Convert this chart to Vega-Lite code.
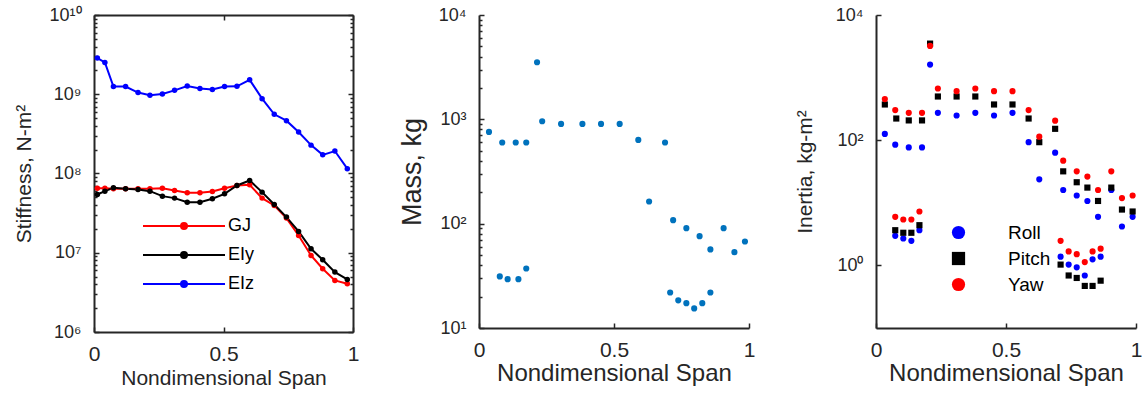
{
  "$schema": "https://vega.github.io/schema/vega-lite/v6.json",
  "padding": {"left": 13, "top": 6, "right": 5, "bottom": 5},
  "spacing": 39,
  "resolve": {"scale": {"color": "independent", "shape": "independent"}, "legend": {"color": "independent", "shape": "independent"}},
  "config": {
    "font": "Liberation Sans",
    "view": {"stroke": null},
    "axis": {
      "domainColor": "#262626", "domainWidth": 2, "tickColor": "#262626", "tickWidth": 1.5,
      "labelColor": "#262626", "titleColor": "#262626", "grid": false, "labelFlush": false,
      "labelOverlap": false, "titleFontWeight": "normal", "labelFont": "Liberation Sans", "titleFont": "Liberation Sans"
    },
    "legend": {"labelFont": "Liberation Sans", "labelColor": "#000000"}
  },
  "hconcat": [
    {
      "width": 259, "height": 317,
      "data": {"values": [
        {"x":0.013,"v":6.53e7,"s":"GJ"},{"x":0.042,"v":6.53e7,"s":"GJ"},{"x":0.075,"v":6.41e7,"s":"GJ"},{"x":0.122,"v":6.41e7,"s":"GJ"},{"x":0.170,"v":6.41e7,"s":"GJ"},{"x":0.216,"v":6.41e7,"s":"GJ"},{"x":0.264,"v":6.53e7,"s":"GJ"},{"x":0.311,"v":6.11e7,"s":"GJ"},{"x":0.360,"v":5.70e7,"s":"GJ"},{"x":0.409,"v":5.70e7,"s":"GJ"},{"x":0.457,"v":5.93e7,"s":"GJ"},{"x":0.504,"v":6.53e7,"s":"GJ"},{"x":0.552,"v":7.06e7,"s":"GJ"},{"x":0.601,"v":7.20e7,"s":"GJ"},{"x":0.649,"v":4.89e7,"s":"GJ"},{"x":0.696,"v":3.95e7,"s":"GJ"},{"x":0.743,"v":2.74e7,"s":"GJ"},{"x":0.790,"v":1.65e7,"s":"GJ"},{"x":0.838,"v":9.25e6,"s":"GJ"},{"x":0.883,"v":6.28e6,"s":"GJ"},{"x":0.930,"v":4.48e6,"s":"GJ"},{"x":0.978,"v":4.06e6,"s":"GJ"},
        {"x":0.013,"v":5.43e7,"s":"EIy"},{"x":0.042,"v":5.99e7,"s":"EIy"},{"x":0.075,"v":6.59e7,"s":"EIy"},{"x":0.122,"v":6.41e7,"s":"EIy"},{"x":0.170,"v":6.28e7,"s":"EIy"},{"x":0.216,"v":5.99e7,"s":"EIy"},{"x":0.264,"v":5.18e7,"s":"EIy"},{"x":0.311,"v":4.89e7,"s":"EIy"},{"x":0.360,"v":4.35e7,"s":"EIy"},{"x":0.409,"v":4.35e7,"s":"EIy"},{"x":0.457,"v":4.80e7,"s":"EIy"},{"x":0.504,"v":5.54e7,"s":"EIy"},{"x":0.552,"v":7.06e7,"s":"EIy"},{"x":0.601,"v":8.17e7,"s":"EIy"},{"x":0.649,"v":5.82e7,"s":"EIy"},{"x":0.696,"v":4.06e7,"s":"EIy"},{"x":0.743,"v":2.82e7,"s":"EIy"},{"x":0.790,"v":1.86e7,"s":"EIy"},{"x":0.838,"v":1.12e7,"s":"EIy"},{"x":0.883,"v":8.16e6,"s":"EIy"},{"x":0.930,"v":5.70e6,"s":"EIy"},{"x":0.978,"v":4.61e6,"s":"EIy"},
        {"x":0.013,"v":2.86e9,"s":"EIz"},{"x":0.042,"v":2.52e9,"s":"EIz"},{"x":0.075,"v":1.25e9,"s":"EIz"},{"x":0.122,"v":1.25e9,"s":"EIz"},{"x":0.170,"v":1.05e9,"s":"EIz"},{"x":0.216,"v":9.7e8,"s":"EIz"},{"x":0.264,"v":1.01e9,"s":"EIz"},{"x":0.311,"v":1.12e9,"s":"EIz"},{"x":0.360,"v":1.27e9,"s":"EIz"},{"x":0.409,"v":1.18e9,"s":"EIz"},{"x":0.457,"v":1.15e9,"s":"EIz"},{"x":0.504,"v":1.25e9,"s":"EIz"},{"x":0.552,"v":1.26e9,"s":"EIz"},{"x":0.601,"v":1.52e9,"s":"EIz"},{"x":0.649,"v":8.8e8,"s":"EIz"},{"x":0.696,"v":5.58e8,"s":"EIz"},{"x":0.743,"v":4.64e8,"s":"EIz"},{"x":0.790,"v":3.34e8,"s":"EIz"},{"x":0.838,"v":2.28e8,"s":"EIz"},{"x":0.883,"v":1.72e8,"s":"EIz"},{"x":0.930,"v":1.92e8,"s":"EIz"},{"x":0.978,"v":1.15e8,"s":"EIz"}
      ]},
      "resolve": {"axis": {"x": "independent", "y": "independent"}},
      "layer": [
        {
          "mark": {"type": "line", "strokeWidth": 2},
          "encoding": {
            "x": {"field": "x", "type": "quantitative", "scale": {"domain": [0, 1], "nice": false},
              "axis": {"orient": "bottom", "values": [0, 0.5, 1], "format": "~g", "tickSize": -5, "labelPadding": 16, "labelFontSize": 21, "title": "Nondimensional Span", "titleFontSize": 21, "titlePadding": 3}},
            "y": {"field": "v", "type": "quantitative", "scale": {"type": "log", "domain": [1e6, 1e10], "nice": false},
              "axis": {"orient": "left", "title": "Stiffness, N-m²", "titleFontSize": 21, "titlePadding": 14, "labelFontSize": 18, "labelPadding": 18,
                "values": [1e6,2e6,3e6,4e6,5e6,6e6,7e6,8e6,9e6,1e7,2e7,3e7,4e7,5e7,6e7,7e7,8e7,9e7,1e8,2e8,3e8,4e8,5e8,6e8,7e8,8e8,9e8,1e9,2e9,3e9,4e9,5e9,6e9,7e9,8e9,9e9,1e10],
                "labelExpr": "datum.value==1e6?'10⁶':datum.value==1e7?'10⁷':datum.value==1e8?'10⁸':datum.value==1e9?'10⁹':datum.value==1e10?'10¹⁰':''",
                "tickSize": {"condition": {"test": "indexof([1e6,1e7,1e8,1e9,1e10], datum.value) >= 0", "value": -5}, "value": -3}}},
            "color": {"field": "s", "type": "nominal", "scale": {"domain": ["GJ", "EIy", "EIz"], "range": ["#ff0000", "#000000", "#0000ff"]},
              "legend": {"title": null, "orient": "none", "legendX": 81, "legendY": 202, "symbolType": "M-8.2,0H8.2M0.6,0A0.6,0.6,0,1,1,-0.6,0A0.6,0.6,0,1,1,0.6,0Z", "symbolSize": 100, "symbolStrokeWidth": 2, "labelFontSize": 18, "labelOffset": 35, "rowPadding": 11}}
          }
        },
        {
          "mark": {"type": "point", "filled": true, "size": 30, "opacity": 1},
          "encoding": {
            "x": {"field": "x", "type": "quantitative",
              "axis": {"orient": "top", "values": [0, 0.5, 1], "tickSize": -5, "labels": false, "title": null}},
            "y": {"field": "v", "type": "quantitative",
              "axis": {"orient": "right", "title": null, "labels": false,
                "values": [1e6,2e6,3e6,4e6,5e6,6e6,7e6,8e6,9e6,1e7,2e7,3e7,4e7,5e7,6e7,7e7,8e7,9e7,1e8,2e8,3e8,4e8,5e8,6e8,7e8,8e8,9e8,1e9,2e9,3e9,4e9,5e9,6e9,7e9,8e9,9e9,1e10],
                "tickSize": {"condition": {"test": "indexof([1e6,1e7,1e8,1e9,1e10], datum.value) >= 0", "value": -5}, "value": -3}}},
            "color": {"field": "s", "type": "nominal"}
          }
        }
      ]
    },
    {
      "width": 270, "height": 313,
      "data": {"values": [
        {"x":0.037,"v":757},{"x":0.086,"v":600},{"x":0.136,"v":600},{"x":0.175,"v":600},{"x":0.215,"v":3524},{"x":0.234,"v":959},{"x":0.304,"v":904},{"x":0.383,"v":904},{"x":0.452,"v":904},{"x":0.521,"v":904},{"x":0.590,"v":635},{"x":0.689,"v":600},{"x":0.630,"v":163},{"x":0.719,"v":108},{"x":0.768,"v":90.6},{"x":0.817,"v":75.9},{"x":0.857,"v":56.6},{"x":0.906,"v":90.6},{"x":0.946,"v":53.3},{"x":0.985,"v":67.5},
        {"x":0.077,"v":31.2},{"x":0.106,"v":29.4},{"x":0.146,"v":29.4},{"x":0.175,"v":37.2},{"x":0.708,"v":21.9},{"x":0.738,"v":18.4},{"x":0.768,"v":17.3},{"x":0.797,"v":15.4},{"x":0.827,"v":17.3},{"x":0.857,"v":21.9}
      ]},
      "mark": {"type": "point", "filled": true, "size": 38, "opacity": 1, "color": "#0072bd"},
      "encoding": {
        "x": {"field": "x", "type": "quantitative", "scale": {"domain": [0, 1], "nice": false},
          "axis": {"values": [0, 0.5, 1], "format": "~g", "tickSize": -5, "labelPadding": 16, "labelFontSize": 21, "title": "Nondimensional Span", "titleFontSize": 24, "titlePadding": 1}},
        "y": {"field": "v", "type": "quantitative", "scale": {"type": "log", "domain": [10, 10000], "nice": false},
          "axis": {"title": "Mass, kg", "titleFontSize": 27, "titlePadding": 12, "labelFontSize": 18, "labelPadding": 18,
            "values": [10,20,30,40,50,60,70,80,90,100,200,300,400,500,600,700,800,900,1000,2000,3000,4000,5000,6000,7000,8000,9000,10000],
            "labelExpr": "datum.value==10?'10¹':datum.value==100?'10²':datum.value==1000?'10³':datum.value==10000?'10⁴':''",
            "tickSize": {"condition": {"test": "indexof([10,100,1000,10000], datum.value) >= 0", "value": -5}, "value": -3}}}
      }
    },
    {
      "width": 260, "height": 313,
      "data": {"values": [
        {"x":0.034,"v":126,"s":"Roll"},{"x":0.074,"v":84.8,"s":"Roll"},{"x":0.126,"v":76.8,"s":"Roll"},{"x":0.177,"v":76.8,"s":"Roll"},{"x":0.208,"v":1614,"s":"Roll"},{"x":0.238,"v":274,"s":"Roll"},{"x":0.310,"v":248,"s":"Roll"},{"x":0.382,"v":274,"s":"Roll"},{"x":0.454,"v":248,"s":"Roll"},{"x":0.525,"v":274,"s":"Roll"},{"x":0.587,"v":93,"s":"Roll"},{"x":0.628,"v":23.7,"s":"Roll"},{"x":0.689,"v":63.2,"s":"Roll"},{"x":0.720,"v":16.0,"s":"Roll"},{"x":0.772,"v":13.1,"s":"Roll"},{"x":0.813,"v":10.7,"s":"Roll"},{"x":0.854,"v":5.97,"s":"Roll"},{"x":0.905,"v":16.0,"s":"Roll"},{"x":0.946,"v":4.18,"s":"Roll"},{"x":0.987,"v":5.97,"s":"Roll"},
        {"x":0.074,"v":2.97,"s":"Roll"},{"x":0.105,"v":2.69,"s":"Roll"},{"x":0.136,"v":2.47,"s":"Roll"},{"x":0.167,"v":3.65,"s":"Roll"},{"x":0.710,"v":1.38,"s":"Roll"},{"x":0.741,"v":1.03,"s":"Roll"},{"x":0.772,"v":0.93,"s":"Roll"},{"x":0.803,"v":0.69,"s":"Roll"},{"x":0.833,"v":1.25,"s":"Roll"},{"x":0.864,"v":1.38,"s":"Roll"},
        {"x":0.034,"v":372,"s":"Pitch"},{"x":0.078,"v":222,"s":"Pitch"},{"x":0.126,"v":207,"s":"Pitch"},{"x":0.177,"v":207,"s":"Pitch"},{"x":0.208,"v":3491,"s":"Pitch"},{"x":0.238,"v":499,"s":"Pitch"},{"x":0.310,"v":499,"s":"Pitch"},{"x":0.382,"v":499,"s":"Pitch"},{"x":0.454,"v":372,"s":"Pitch"},{"x":0.525,"v":372,"s":"Pitch"},{"x":0.587,"v":222,"s":"Pitch"},{"x":0.628,"v":93,"s":"Pitch"},{"x":0.689,"v":152,"s":"Pitch"},{"x":0.720,"v":31.8,"s":"Pitch"},{"x":0.772,"v":21.3,"s":"Pitch"},{"x":0.813,"v":17.5,"s":"Pitch"},{"x":0.854,"v":10.7,"s":"Pitch"},{"x":0.905,"v":17.5,"s":"Pitch"},{"x":0.946,"v":7.8,"s":"Pitch"},{"x":0.987,"v":7.26,"s":"Pitch"},
        {"x":0.074,"v":3.65,"s":"Pitch"},{"x":0.105,"v":3.32,"s":"Pitch"},{"x":0.136,"v":3.32,"s":"Pitch"},{"x":0.167,"v":4.39,"s":"Pitch"},{"x":0.710,"v":1.03,"s":"Pitch"},{"x":0.741,"v":0.69,"s":"Pitch"},{"x":0.772,"v":0.63,"s":"Pitch"},{"x":0.803,"v":0.47,"s":"Pitch"},{"x":0.833,"v":0.47,"s":"Pitch"},{"x":0.864,"v":0.57,"s":"Pitch"},
        {"x":0.034,"v":454,"s":"Yaw"},{"x":0.074,"v":303,"s":"Yaw"},{"x":0.126,"v":274,"s":"Yaw"},{"x":0.177,"v":274,"s":"Yaw"},{"x":0.208,"v":3206,"s":"Yaw"},{"x":0.238,"v":669,"s":"Yaw"},{"x":0.310,"v":608,"s":"Yaw"},{"x":0.382,"v":669,"s":"Yaw"},{"x":0.454,"v":608,"s":"Yaw"},{"x":0.525,"v":608,"s":"Yaw"},{"x":0.587,"v":303,"s":"Yaw"},{"x":0.628,"v":114,"s":"Yaw"},{"x":0.689,"v":205,"s":"Yaw"},{"x":0.720,"v":47.1,"s":"Yaw"},{"x":0.772,"v":31.8,"s":"Yaw"},{"x":0.813,"v":26.2,"s":"Yaw"},{"x":0.854,"v":16.0,"s":"Yaw"},{"x":0.905,"v":31.8,"s":"Yaw"},{"x":0.946,"v":11.9,"s":"Yaw"},{"x":0.987,"v":13.1,"s":"Yaw"},
        {"x":0.074,"v":5.97,"s":"Yaw"},{"x":0.105,"v":5.41,"s":"Yaw"},{"x":0.136,"v":5.41,"s":"Yaw"},{"x":0.167,"v":7.26,"s":"Yaw"},{"x":0.710,"v":2.47,"s":"Yaw"},{"x":0.741,"v":1.67,"s":"Yaw"},{"x":0.772,"v":1.51,"s":"Yaw"},{"x":0.803,"v":1.13,"s":"Yaw"},{"x":0.833,"v":1.67,"s":"Yaw"},{"x":0.864,"v":1.85,"s":"Yaw"}
      ]},
      "mark": {"type": "point", "filled": true, "size": 38, "opacity": 1},
      "encoding": {
        "x": {"field": "x", "type": "quantitative", "scale": {"domain": [0, 1], "nice": false},
          "axis": {"values": [0, 0.5, 1], "format": "~g", "tickSize": -5, "labelPadding": 16, "labelFontSize": 21, "title": "Nondimensional Span", "titleFontSize": 24, "titlePadding": 1}},
        "y": {"field": "v", "type": "quantitative", "scale": {"type": "log", "domain": [0.1, 10000], "nice": false},
          "axis": {"title": "Inertia, kg-m²", "titleFontSize": 21, "titlePadding": 20, "labelFontSize": 18, "labelPadding": 18,
            "values": [1, 100, 10000],
            "labelExpr": "datum.value==1?'10⁰':datum.value==100?'10²':'10⁴'", "tickSize": -5}},
        "color": {"field": "s", "type": "nominal", "scale": {"domain": ["Roll", "Pitch", "Yaw"], "range": ["#0000ff", "#000000", "#ff0000"]},
          "legend": {"title": null, "orient": "none", "legendX": 73, "legendY": 208, "symbolSize": 175, "labelFontSize": 19, "labelOffset": 40, "rowPadding": 6}},
        "shape": {"field": "s", "type": "nominal", "scale": {"domain": ["Roll", "Pitch", "Yaw"], "range": ["circle", "square", "circle"]},
          "legend": {"title": null, "orient": "none", "legendX": 73, "legendY": 208, "symbolSize": 175, "labelFontSize": 19, "labelOffset": 40, "rowPadding": 6}}
      }
    }
  ]
}
